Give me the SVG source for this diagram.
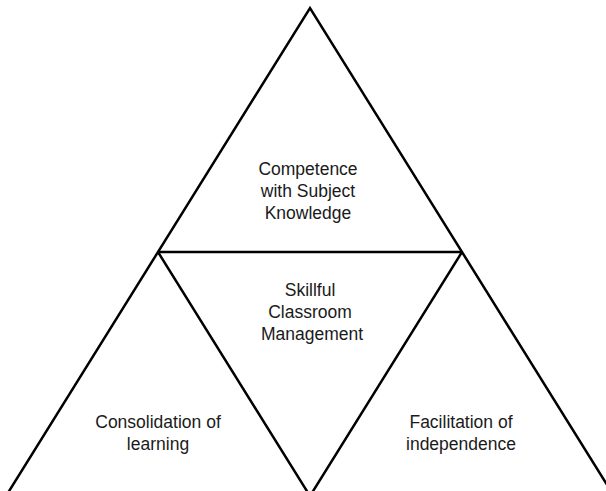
<svg xmlns="http://www.w3.org/2000/svg" width="606" height="491" viewBox="0 0 606 491">
<style>
.edge{fill:none;stroke:#000;stroke-width:2.5;stroke-linejoin:miter}
.lbl{font-family:"Liberation Sans",Arial,sans-serif;font-size:17.5px;fill:#1a1a1a;text-anchor:middle}
</style>
<rect width="606" height="491" fill="#fff"/>
<g id="connectors">
<path class="edge" d="M6,496 L310,8 L614,496"/>
<path class="edge" d="M158,252 L462,252"/>
<path class="edge" d="M158,252 L310,496 L462,252"/>
</g>
<g id="top">
<text class="lbl" x="308" y="175">Competence</text>
<text class="lbl" x="308" y="197">with Subject</text>
<text class="lbl" x="308" y="219">Knowledge</text>
</g>
<g id="center">
<text class="lbl" x="310" y="296">Skillful</text>
<text class="lbl" x="310" y="318">Classroom</text>
<text class="lbl" x="312" y="340">Management</text>
</g>
<g id="left">
<text class="lbl" x="158" y="428">Consolidation of</text>
<text class="lbl" x="158" y="450">learning</text>
</g>
<g id="right">
<text class="lbl" x="461" y="428">Facilitation of</text>
<text class="lbl" x="461" y="450">independence</text>
</g>
</svg>
